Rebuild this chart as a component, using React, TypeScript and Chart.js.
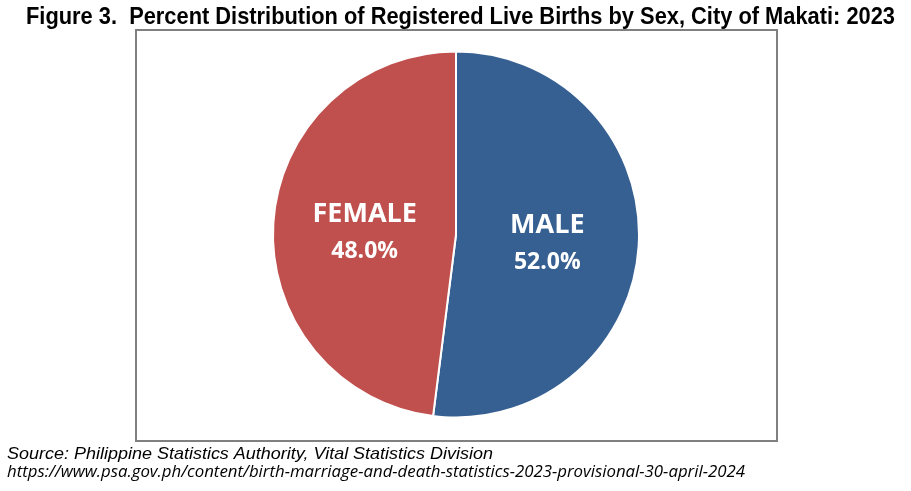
import React, { useEffect, useRef } from "react";
import { Chart, registerables } from "chart.js";

Chart.register(...registerables);

const categories = ["MALE", "FEMALE"];
const percentValues = [52.0, 48.0];
const sliceColors = ["#376092", "#C0504D"];

const titleText = "Figure 3.  Percent Distribution of Registered Live Births by Sex, City of Makati: 2023";
const sourceText = "Source: Philippine Statistics Authority, Vital Statistics Division";
const urlText = "https://www.psa.gov.ph/content/birth-marriage-and-death-statistics-2023-provisional-30-april-2024";

function fitText(ctx: CanvasRenderingContext2D, text: string, x: number, y: number, width: number) {
  const w = ctx.measureText(text).width;
  ctx.save();
  ctx.translate(x, y);
  ctx.scale(width / w, 1);
  ctx.fillText(text, 0, 0);
  ctx.restore();
}

const decorPlugin = {
  id: "decor",
  beforeDraw(chart: any) {
    const ctx = chart.ctx as CanvasRenderingContext2D;
    ctx.save();
    ctx.fillStyle = "#ffffff";
    ctx.fillRect(0, 0, chart.width, chart.height);
    ctx.strokeStyle = "#808080";
    ctx.lineWidth = 2;
    ctx.strokeRect(136, 30, 641, 411);
    ctx.fillStyle = "#000000";
    ctx.textAlign = "left";
    ctx.textBaseline = "alphabetic";
    ctx.font = "bold 24px 'Liberation Sans', Arial, sans-serif";
    fitText(ctx, titleText, 26, 24, 869);
    ctx.font = "italic 17px 'Liberation Sans', Arial, sans-serif";
    fitText(ctx, sourceText, 7, 459, 486);
    ctx.font = "italic 16px 'Open Sans', sans-serif";
    fitText(ctx, urlText, 7, 477, 738);
    ctx.restore();
  },
  afterDatasetsDraw(chart: any) {
    const ctx = chart.ctx as CanvasRenderingContext2D;
    const meta = chart.getDatasetMeta(0);
    ctx.save();
    ctx.fillStyle = "#ffffff";
    ctx.textAlign = "center";
    ctx.textBaseline = "alphabetic";
    meta.data.forEach((arc: any, i: number) => {
      const p = arc.tooltipPosition();
      ctx.font = "bold 27px 'Open Sans', sans-serif";
      ctx.fillText(categories[i], p.x, p.y - 7);
      ctx.font = "bold 23px 'Open Sans', sans-serif";
      ctx.fillText(percentValues[i].toFixed(1) + "%", p.x, p.y + 29);
    });
    ctx.restore();
  },
};

export default function App() {
  const ref = useRef<HTMLCanvasElement | null>(null);
  useEffect(() => {
    if (!ref.current) return;
    const chart = new Chart(ref.current, {
      type: "pie",
      data: {
        labels: categories,
        datasets: [
          {
            data: percentValues,
            backgroundColor: sliceColors,
            borderColor: "#ffffff",
            borderWidth: 2,
          },
        ],
      },
      options: {
        responsive: false,
        animation: false,
        radius: 183,
        layout: { padding: { left: 1, right: 0, top: 0, bottom: 22 } },
        plugins: {
          legend: { display: false },
          tooltip: { enabled: false },
          title: { display: false },
        },
        events: [],
      },
      plugins: [decorPlugin],
    });
    return () => chart.destroy();
  }, []);
  return (
    <div style={{ position: "absolute", left: 0, top: 0, width: 911, height: 491 }}>
      <canvas ref={ref} width={911} height={491} style={{ width: 911, height: 491, display: "block" }} />
    </div>
  );
}
